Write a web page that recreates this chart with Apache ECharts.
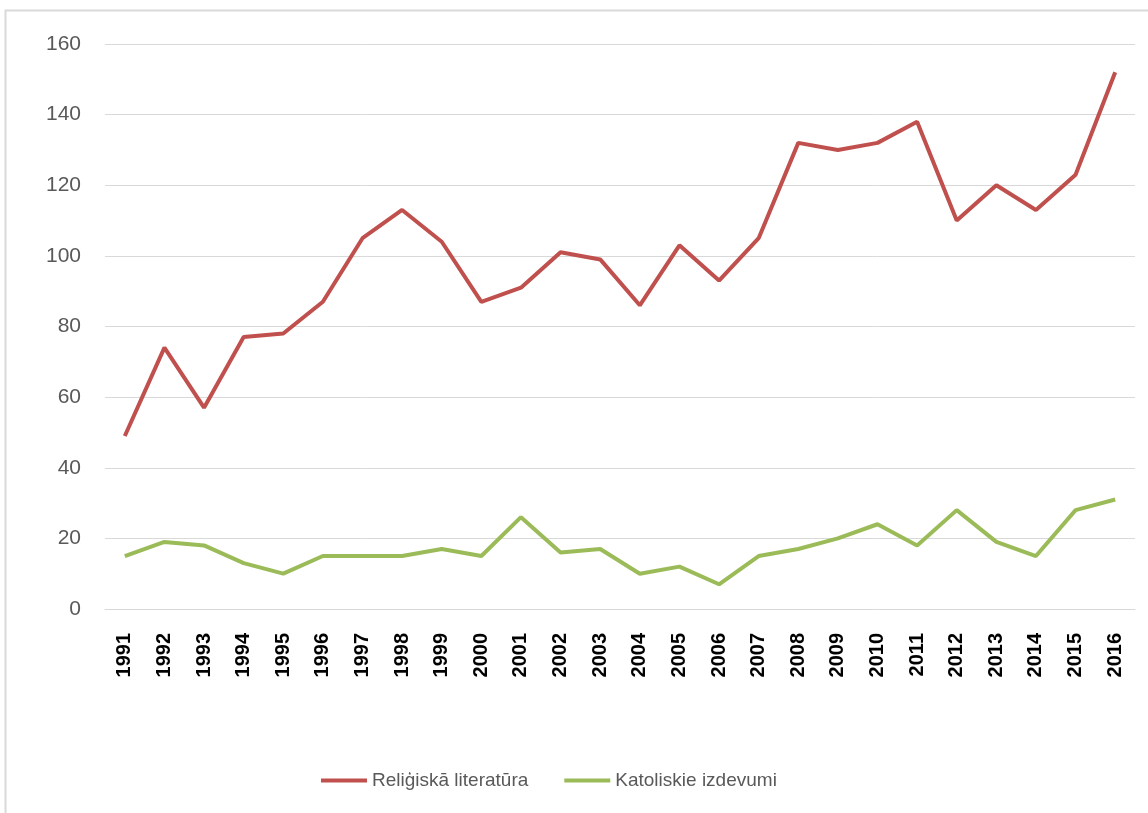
<!DOCTYPE html>
<html>
<head>
<meta charset="utf-8">
<script src="https://cdn.jsdelivr.net/npm/echarts@6/dist/echarts.min.js"></script>
<style>
html,body{margin:0;padding:0;background:#fff;}
#chart{width:1148px;height:813px;}
</style>
</head>
<body>
<div id="chart"></div>
<script>
const years = ['1991','1992','1993','1994','1995','1996','1997','1998','1999','2000','2001','2002','2003','2004','2005','2006','2007','2008','2009','2010','2011','2012','2013','2014','2015','2016'];
const religiska = [49,74,57,77,78,87,105,113,104,87,91,101,99,86,103,93,105,132,130,132,138,110,120,113,123,152];
const katoliskie = [15,19,18,13,10,15,15,15,17,15,26,16,17,10,12,7,15,17,20,24,18,28,19,15,28,31];
const seriesNames = ['Reliģiskā literatūra','Katoliskie izdevumi'];
const yTicks = {min:0, max:160, interval:20};

const chart = echarts.init(document.getElementById('chart'), null, {renderer:'canvas'});
chart.setOption({
  backgroundColor:'#ffffff',
  animation:false,
  graphic:[{
    type:'rect',
    shape:{x:5.5,y:10.5,width:1200,height:900},
    style:{fill:'none',stroke:'#d9d9d9',lineWidth:2},
    silent:true
  }],
  grid:{left:105,top:44,width:1030,height:565,containLabel:false},
  legend:{
    data:seriesNames,
    top:766,
    left:316,
    icon:'rect',
    itemWidth:46,
    itemHeight:4,
    itemGap:36,
    textStyle:{color:'#595959',fontSize:19,fontFamily:'Liberation Sans'}
  },
  xAxis:{
    type:'category',
    data:years,
    boundaryGap:true,
    axisLine:{show:true,lineStyle:{color:'#d9d9d9',width:1}},
    axisTick:{show:false},
    axisLabel:{rotate:90,margin:24,color:'#000000',fontWeight:'bold',fontSize:20,fontFamily:'Liberation Sans',interval:0}
  },
  yAxis:{
    type:'value',
    min:yTicks.min,max:yTicks.max,interval:yTicks.interval,
    axisLine:{show:false},
    axisTick:{show:false},
    splitLine:{lineStyle:{color:'#d9d9d9',width:1}},
    axisLabel:{margin:24,color:'#595959',fontSize:21,fontFamily:'Liberation Sans'}
  },
  series:[
    {name:seriesNames[0],type:'line',data:religiska,showSymbol:false,symbol:'none',
     lineStyle:{color:'#c0504d',width:4},itemStyle:{color:'#c0504d'}},
    {name:seriesNames[1],type:'line',data:katoliskie,showSymbol:false,symbol:'none',
     lineStyle:{color:'#9bbb59',width:4},itemStyle:{color:'#9bbb59'}}
  ]
});
</script>
</body>
</html>
